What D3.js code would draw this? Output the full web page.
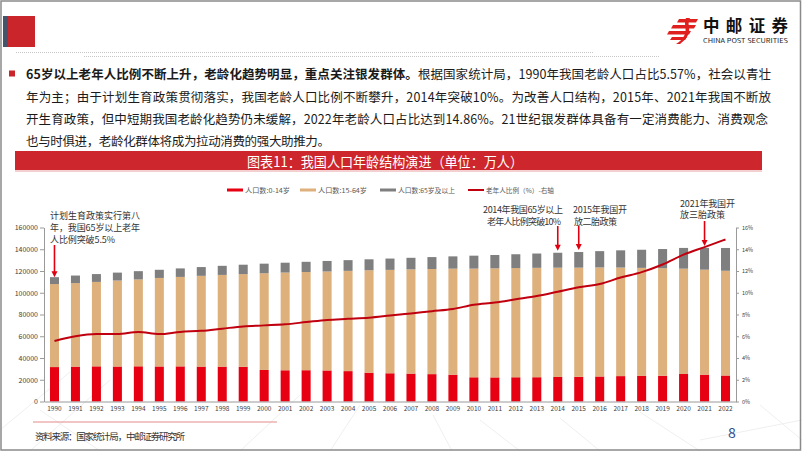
<!DOCTYPE html>
<html><head><meta charset="utf-8">
<script src="https://cdn.jsdelivr.net/npm/d3@7/dist/d3.min.js"></script>
<style>
html,body{margin:0;padding:0;background:#fff;}
svg{display:block;}
text{font-family:"Noto Sans CJK SC","Noto Sans",sans-serif;}
</style></head>
<body>
<svg id="c" width="802" height="451"></svg>
<script>
const years = ["1990","1991","1992","1993","1994","1995","1996","1997","1998","1999","2000","2001","2002","2003","2004","2005","2006","2007","2008","2009","2010","2011","2012","2013","2014","2015","2016","2017","2018","2019","2020","2021","2022"];
const age0_14 = [31659,32095,32339,32177,32360,32218,32311,32093,32064,31950,29012,28716,28774,28559,27947,26504,25961,25660,25166,24659,22259,22164,22287,22329,22558,22715,23008,23348,23523,23689,25277,24678,23908];
const age15_64 = [76306,76791,77614,79051,79868,81393,82245,83448,84338,85157,88910,89849,90302,90976,92184,94197,95068,95833,96680,97484,99938,100283,100403,100582,100469,100361,100260,99829,99357,98910,96871,96526,96289];
const age65 = [6368,6938,7218,7289,7622,7510,7833,8085,8359,8679,8821,9062,9377,9692,9857,10055,10419,10636,10956,11307,11894,12288,12714,13161,13755,14386,15003,15831,16658,17603,19064,20056,20978];
const elderRatio = [5.57,6.0,6.2,6.2,6.4,6.2,6.4,6.5,6.7,6.9,7.0,7.1,7.3,7.5,7.6,7.7,7.9,8.1,8.3,8.5,8.9,9.1,9.4,9.7,10.1,10.5,10.8,11.4,11.9,12.6,13.5,14.2,14.9];
const leftTicks = [0,20000,40000,60000,80000,100000,120000,140000,160000];
const rightTicks = [0,2,4,6,8,10,12,14,16];
const seriesNames = ["人口数:0-14岁","人口数:15-64岁","人口数:65岁及以上","老年人比例（%）-右轴"];
const colors = {c0:"#E60012", c1:"#DDB07C", c2:"#7F7F7F", line:"#C0000F"};

const svg = d3.select("#c");

// faint background lines
const bgLines = [[0,430,70,372],[30,451,110,380],[240,451,300,395],[330,451,360,405],[433,415,452,451],[480,420,520,451],[560,418,600,451],[640,412,700,451],[760,405,802,440],[700,440,802,420],[100,451,40,410]];
svg.selectAll("line.bg").data(bgLines).enter().append("line")
  .attr("x1",d=>d[0]).attr("y1",d=>d[1]).attr("x2",d=>d[2]).attr("y2",d=>d[3])
  .attr("stroke","#efefef").attr("stroke-width",1);

// frame
svg.append("rect").attr("x",1).attr("y",1).attr("width",799.5).attr("height",449)
  .attr("fill","none").attr("stroke","#8a8a8a").attr("stroke-width",1.5);

// header blocks
svg.append("rect").attr("x",3).attr("y",16).attr("width",5).attr("height",31).attr("fill","#44546A");
svg.append("rect").attr("x",8).attr("y",16).attr("width",27).attr("height",31).attr("fill","#C9252B");

// dotted lines
svg.append("line").attr("x1",16).attr("y1",52.5).attr("x2",593).attr("y2",52.5)
  .attr("stroke","#c8c8c8").attr("stroke-dasharray","1,1");
svg.append("line").attr("x1",84).attr("y1",56.5).attr("x2",660).attr("y2",56.5)
  .attr("stroke","#c8c8c8").attr("stroke-dasharray","1,1");

// logo
const lg = svg.append("g").attr("fill","#E0201F");
lg.append("path").attr("d","M679,19 L698,19 L696,22.5 L677,22.5 Z");
lg.append("path").attr("d","M673,25 L696,25 L694,28.5 L671,28.5 Z");
lg.append("path").attr("d","M669,31 L691,31 L689,34.5 L667,34.5 Z");
lg.append("path").attr("d","M672,37 L687,37 L685,40 L670,40 Z");
lg.append("path").attr("d","M686,18 C683,24 688,30 684,36 C682,40 679,42 676,44 L680,44 C684,41 688,37 689,32 C690,27 687,23 690,18 Z");
svg.append("text").attr("x",703).attr("y",31.5).attr("font-size",16.5).attr("font-weight","bold")
  .attr("fill","#111").attr("textLength",85).attr("lengthAdjust","spacing").text("中邮证券");
svg.append("text").attr("x",703).attr("y",43).attr("font-size",6)
  .attr("font-family","Liberation Sans, Arial, sans-serif")
  .attr("fill","#222").attr("textLength",85).attr("lengthAdjust","spacingAndGlyphs").text("CHINA POST SECURITIES");

// paragraph
svg.append("rect").attr("x",9).attr("y",70.5).attr("width",6).attr("height",6).attr("fill","#C9252B");
const para = [
  {y:73, len:745, parts:[["65岁以上老年人比例不断上升，老龄化趋势明显，重点关注银发群体。",true],["根据国家统计局，1990年我国老龄人口占比5.57%，社会以青壮",false]]},
  {y:96, len:745, parts:[["年为主；由于计划生育政策贯彻落实，我国老龄人口比例不断攀升，2014年突破10%。为改善人口结构，2015年、2021年我国不断放",false]]},
  {y:118, len:742, parts:[["开生育政策，但中短期我国老龄化趋势仍未缓解，2022年老龄人口占比达到14.86%。21世纪银发群体具备有一定消费能力、消费观念",false]]},
  {y:140, len:304, parts:[["也与时俱进，老龄化群体将成为拉动消费的强大助推力。",false]]}
];
para.forEach(p=>{
  const t = svg.append("text").attr("x",26).attr("y",p.y).attr("dominant-baseline","central")
    .attr("font-size",12.5).attr("fill","#1a1a1a")
    .attr("textLength",p.len).attr("lengthAdjust","spacing");
  p.parts.forEach(pt=>{
    t.append("tspan").attr("font-weight",pt[1]?"bold":"normal").text(pt[0]);
  });
});

// title bar
svg.append("rect").attr("x",15).attr("y",151).attr("width",747).attr("height",19).attr("fill","#CD262C");
svg.append("line").attr("x1",15).attr("x2",762).attr("y1",171).attr("y2",171).attr("stroke","#E8A0A0").attr("stroke-width",1);
svg.append("text").attr("x",247).attr("y",161).attr("dominant-baseline","central")
  .attr("font-size",14).attr("fill","#fff").attr("textLength",276).attr("lengthAdjust","spacingAndGlyphs")
  .text("图表11：我国人口年龄结构演进（单位：万人）");

// scales
const x = d3.scaleBand().domain(years).range([44,736]).paddingInner(0.57).paddingOuter(0.285);
const yL = d3.scaleLinear().domain([0,160000]).range([401.5,227.5]);
const yR = d3.scaleLinear().domain([0,16]).range([401.5,227.5]);

// stacked bars
const rows = years.map((yr,i)=>({year:yr, c0:age0_14[i], c1:age15_64[i], c2:age65[i]}));
const stack = d3.stack().keys(["c0","c1","c2"])(rows);
svg.append("g").selectAll("g").data(stack).enter().append("g")
  .attr("fill",d=>colors[d.key])
  .selectAll("rect").data(d=>d).enter().append("rect")
  .attr("x",d=>x(d.data.year)).attr("width",x.bandwidth())
  .attr("y",d=>yL(d[1])).attr("height",d=>yL(d[0])-yL(d[1]));

// line
const line = d3.line().x((d,i)=>x(years[i])+x.bandwidth()/2).y(d=>yR(d)).curve(d3.curveMonotoneX);
svg.append("path").datum(elderRatio).attr("d",line).attr("fill","none")
  .attr("stroke",colors.line).attr("stroke-width",2);

// axes
const axL = svg.append("g").attr("transform","translate(44,0)")
  .call(d3.axisLeft(yL).tickValues(leftTicks).tickFormat(d3.format("d")).tickSize(4).tickSizeOuter(0).tickPadding(2));
const axR = svg.append("g").attr("transform","translate(736,0)")
  .call(d3.axisRight(yR).tickValues(rightTicks).tickFormat(d=>d+"%").tickSize(3).tickSizeOuter(0).tickPadding(3));
const axB = svg.append("g").attr("transform","translate(0,401.5)")
  .call(d3.axisBottom(x).tickSize(0).tickPadding(5));
[axL,axR,axB].forEach(a=>{
  a.selectAll("path,line").attr("stroke","#9a9a9a");
  a.selectAll("text").attr("fill","#404040").attr("font-family","Liberation Sans, Arial, sans-serif");
});
axL.selectAll("text").attr("font-size",7);
axR.selectAll("text").attr("font-size",5.5);
axB.selectAll("text").attr("font-size",6.5);

// legend
const legend = [
  {x:227, name:seriesNames[0], color:colors.c0, type:"bar", w:45},
  {x:300, name:seriesNames[1], color:colors.c1, type:"bar", w:49},
  {x:380, name:seriesNames[2], color:colors.c2, type:"bar", w:57},
  {x:468, name:seriesNames[3], color:colors.line, type:"line", w:68}
];
legend.forEach(l=>{
  if(l.type==="bar") svg.append("rect").attr("x",l.x).attr("y",188.5).attr("width",16).attr("height",3).attr("fill",l.color);
  else svg.append("line").attr("x1",l.x).attr("x2",l.x+16).attr("y1",190).attr("y2",190).attr("stroke",l.color).attr("stroke-width",2);
  svg.append("text").attr("x",l.x+18).attr("y",190).attr("dominant-baseline","central")
    .attr("font-size",6.5).attr("fill","#595959").attr("textLength",l.w).attr("lengthAdjust","spacingAndGlyphs").text(l.name);
});

// annotations
const annos = [
  {year:"1990", tip:yL(age0_14[0]+age15_64[0]+age65[0]), top:245, lines:[["计划生育政策实行第八",50,215.5,90],["年，我国65岁以上老年",50,227.5,90],["人比例突破5.5%",50,239.5,65]]},
  {year:"2014", tip:yL(age0_14[24]+age15_64[24]+age65[24])-2, top:226, lines:[["2014年我国65岁以上",483,209,80],["老年人比例突破10%",487,221,74]]},
  {year:"2015", tip:yL(age0_14[25]+age15_64[25]+age65[25])-2, top:226, lines:[["2015年我国开",573,209,54],["放二胎政策",574,221,43]]},
  {year:"2021", tip:yR(elderRatio[31])-1, top:221, lines:[["2021年我国开",680,203,55],["放三胎政策",680,214.5,45]]}
];
annos.forEach(a=>{
  const cx = x(a.year)+x.bandwidth()/2;
  svg.append("line").attr("x1",cx).attr("x2",cx).attr("y1",a.top).attr("y2",a.tip-5)
    .attr("stroke","#E00010").attr("stroke-width",1.6);
  svg.append("path").attr("d",`M${cx-3},${a.tip-6} L${cx+3},${a.tip-6} L${cx},${a.tip} Z`).attr("fill","#E00010");
  a.lines.forEach(l=>{
    svg.append("text").attr("x",l[1]).attr("y",l[2]).attr("dominant-baseline","central")
      .attr("font-size",9).attr("fill","#333").attr("textLength",l[3]).attr("lengthAdjust","spacing").text(l[0]);
  });
});

// footer
svg.append("line").attr("x1",33).attr("x2",277).attr("y1",422).attr("y2",422).attr("stroke","#E58A8A").attr("stroke-width",1);
svg.append("text").attr("x",35).attr("y",436).attr("dominant-baseline","central")
  .attr("font-size",9.5).attr("fill","#333").attr("textLength",150).attr("lengthAdjust","spacing")
  .text("资料来源：国家统计局，中邮证券研究所");
svg.append("text").attr("x",732).attr("y",432).attr("dominant-baseline","central").attr("text-anchor","middle")
  .attr("font-size",14).attr("fill","#2F4F8F").attr("font-family","Liberation Sans, Arial, sans-serif").text("8");
</script>
</body></html>
